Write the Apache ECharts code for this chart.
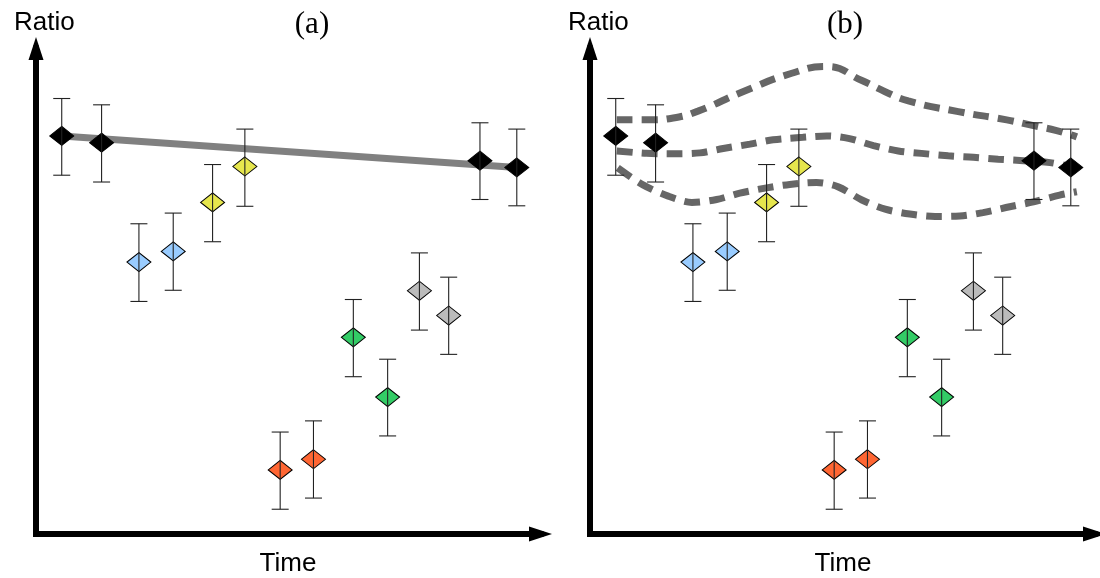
<!DOCTYPE html>
<html>
<head>
<meta charset="utf-8">
<script src="https://cdn.jsdelivr.net/npm/echarts@6/dist/echarts.min.js"></script>
<style>
html,body{margin:0;padding:0;background:#fff;}
#chart{width:1100px;height:578px;}
</style>
</head>
<body>
<div id="chart"></div>
<script>
// ---- data (arbitrary units: time 0-100, ratio 0-100) ----
var timePoints = [5.1, 13.0, 20.4, 27.2, 35.0, 41.4, 48.4, 55.0, 62.9, 69.7, 76.0, 81.8, 88.0, 95.3];
var ratioValues = [82.0, 80.6, 56.0, 58.2, 68.3, 75.7, 13.2, 15.4, 40.5, 28.2, 50.1, 45.0, 76.9, 75.5];
var ratioLow = [73.9, 72.5, 47.9, 50.2, 60.2, 67.5, 5.1, 7.4, 32.4, 20.2, 42.0, 37.0, 68.9, 67.6];
var ratioHigh = [89.7, 88.4, 63.9, 66.1, 76.1, 83.4, 21.0, 23.3, 48.3, 36.0, 57.9, 52.9, 84.7, 83.4];
var groups = ['black', 'black', 'blue', 'blue', 'yellow', 'yellow', 'orange', 'orange', 'green', 'green', 'gray', 'gray', 'black', 'black'];

// panel (a) trend line
var trendTime = [5.1, 95.3];
var trendRatio = [82.0, 75.5];

// panel (b) dashed band curves [time, ratio]
var upperBand = [[5.3, 85.3], [11.9, 85.3], [16.5, 85.7], [21.4, 87.1], [30.3, 91.1], [40.0, 94.9], [46.9, 96.3], [53.9, 93.4], [58.5, 91.1], [63.1, 89.2], [73.0, 87.0], [82.6, 85.3], [87.9, 84.1], [92.5, 83.1], [96.5, 81.8]];
var middleBand = [[5.3, 78.9], [11.2, 78.4], [17.2, 78.3], [21.8, 78.5], [26.4, 79.4], [31.7, 80.3], [36.3, 81.2], [42.2, 81.7], [46.9, 82.0], [51.2, 81.5], [56.2, 80.0], [61.1, 78.9], [65.7, 78.4], [71.0, 77.9], [76.0, 77.6], [80.9, 77.2], [85.9, 76.9], [91.2, 76.5], [96.3, 75.4]];
var lowerBand = [[5.5, 75.4], [10.5, 71.9], [15.5, 69.6], [20.2, 68.3], [25.1, 68.9], [29.7, 70.2], [35.0, 71.3], [39.6, 72.0], [44.9, 72.4], [49.2, 71.5], [53.9, 68.8], [58.5, 66.9], [63.4, 65.9], [68.4, 65.4], [73.3, 65.5], [77.9, 66.2], [83.2, 67.4], [87.9, 68.4], [93.1, 69.8], [96.5, 70.5]];

var titles = ['(a)', '(b)'];
var axisNames = ['Time', 'Ratio'];

// ---- styles ----
var groupColors = {black: '#000000', blue: '#99ccff', yellow: '#e6e64d', orange: '#ff6633', green: '#33cc66', gray: '#bbbbbb'};

var chart = echarts.init(document.getElementById('chart'), null, {renderer: 'canvas'});

function axisCommon() {
  return {
    type: 'value', min: 0, max: 100,
    axisLine: {show: true, symbol: ['none', 'triangle'], symbolSize: [15, 23],
      lineStyle: {color: '#000', width: 6, cap: 'square'}},
    axisTick: {show: false}, axisLabel: {show: false}, splitLine: {show: false}
  };
}

var grids = [
  {left: 36, top: 48.5, width: 504.5, height: 485.5},
  {left: 590, top: 48.5, width: 504.5, height: 485.5}
];
var xAxes = [], yAxes = [];
for (var g = 0; g < 2; g++) {
  var xa = axisCommon(); xa.gridIndex = g; xAxes.push(xa);
  var ya = axisCommon(); ya.gridIndex = g; yAxes.push(ya);
}

function markerData() {
  return timePoints.map(function (t, i) {
    return {value: [t, ratioValues[i]], itemStyle: {color: groupColors[groups[i]]}};
  });
}
function errorData() {
  return timePoints.map(function (t, i) { return [t, ratioLow[i], ratioHigh[i]]; });
}
function renderError(params, api) {
  var x = api.value(0);
  var lo = api.coord([x, api.value(1)]);
  var hi = api.coord([x, api.value(2)]);
  var c = 8.5;
  var st = {stroke: '#222', lineWidth: 1.1};
  return {type: 'group', children: [
    {type: 'line', shape: {x1: lo[0], y1: lo[1], x2: hi[0], y2: hi[1]}, style: st},
    {type: 'line', shape: {x1: lo[0] - c, y1: lo[1], x2: lo[0] + c, y2: lo[1]}, style: st},
    {type: 'line', shape: {x1: hi[0] - c, y1: hi[1], x2: hi[0] + c, y2: hi[1]}, style: st}
  ]};
}

var series = [];
// panel a trend line
series.push({type: 'line', xAxisIndex: 0, yAxisIndex: 0, symbol: 'none', silent: true, z: 1,
  data: trendTime.map(function (t, i) { return [t, trendRatio[i]]; }),
  lineStyle: {color: '#808080', width: 7}});
// panel b dashed curves
[upperBand, middleBand, lowerBand].forEach(function (band, k) {
  series.push({type: 'line', xAxisIndex: 1, yAxisIndex: 1, symbol: 'none', silent: true, z: 1,
    smooth: k === 0 ? 0.5 : 0.3, data: band,
    lineStyle: {color: '#666666', width: 7, type: [16, 9]}});
});
for (var p = 0; p < 2; p++) {
  series.push({type: 'scatter', xAxisIndex: p, yAxisIndex: p, symbol: 'diamond', symbolSize: [24, 19], z: 3,
    data: markerData(), itemStyle: {borderColor: '#000', borderWidth: 1, opacity: 1}});
  series.push({type: 'custom', xAxisIndex: p, yAxisIndex: p, z: 4, silent: true,
    renderItem: renderError, data: errorData()});
}

var titleItems = [
  {text: titles[0], left: 307, top: 4, textAlign: 'center', textStyle: {fontFamily: 'Liberation Serif', fontSize: 31, fontWeight: 'normal', color: '#000'}},
  {text: titles[1], left: 840, top: 4, textAlign: 'center', textStyle: {fontFamily: 'Liberation Serif', fontSize: 31, fontWeight: 'normal', color: '#000'}},
  {text: axisNames[1], left: 9, top: 5, textStyle: {fontFamily: 'Liberation Sans', fontSize: 26, fontWeight: 'normal', color: '#000'}},
  {text: axisNames[1], left: 563, top: 5, textStyle: {fontFamily: 'Liberation Sans', fontSize: 26, fontWeight: 'normal', color: '#000'}},
  {text: axisNames[0], left: 283, top: 546, textAlign: 'center', textStyle: {fontFamily: 'Liberation Sans', fontSize: 26, fontWeight: 'normal', color: '#000'}},
  {text: axisNames[0], left: 838, top: 546, textAlign: 'center', textStyle: {fontFamily: 'Liberation Sans', fontSize: 26, fontWeight: 'normal', color: '#000'}}
];

chart.setOption({
  animation: false,
  backgroundColor: '#ffffff',
  title: titleItems,
  grid: grids,
  xAxis: xAxes,
  yAxis: yAxes,
  series: series
});
</script>
</body>
</html>
